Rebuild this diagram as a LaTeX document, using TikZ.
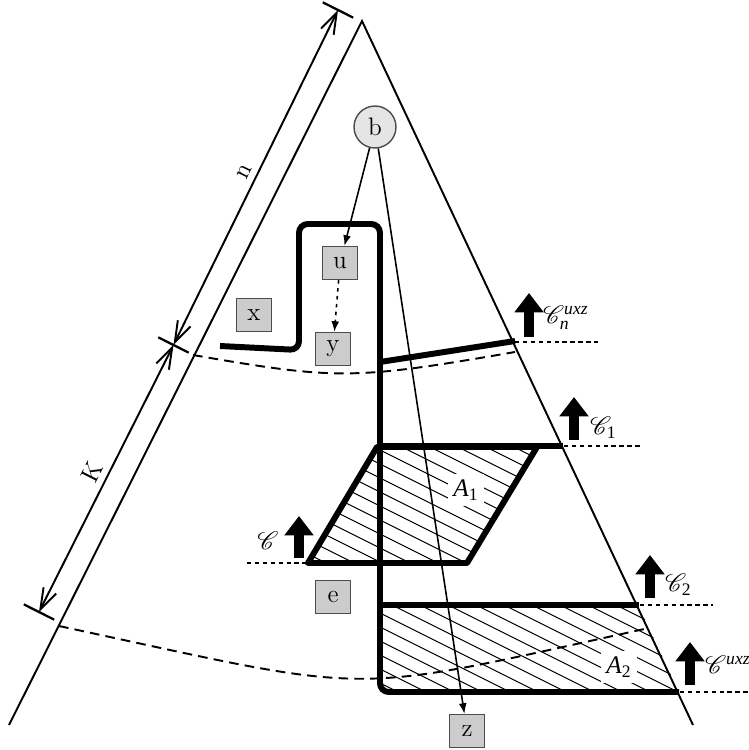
\documentclass[tikz,border=0pt]{standalone}
\usepackage{amsmath}
\usepackage{mathrsfs}
\usepackage{fontspec}
\newfontfamily\tms{Liberation Serif}
\usetikzlibrary{arrows.meta}
\begin{document}
\begin{tikzpicture}[x=0.02cm,y=-0.02cm,
  thinline/.style={line width=1.1pt},
  heavy/.style={line width=3.4pt},
  boxnode/.style={draw=black!70, fill=gray!40, line width=0.8pt, minimum width=0.7cm, minimum height=0.66cm, inner sep=0pt, font=\Large},
  circnode/.style={circle, draw=black!70, fill=gray!20, line width=0.8pt, minimum size=0.84cm, inner sep=0pt, font=\Large},
  dimline/.style={line width=1.1pt, {Straight Barb[length=12pt,width=8pt]}-{Straight Barb[length=12pt,width=8pt]}},
  dimtick/.style={line width=1.3pt},
  bigarrow/.style={line width=5.7pt, -{Triangle[length=11pt,width=16pt]}},
  dotline/.style={line width=1.1pt, dash pattern=on 2.5pt off 2pt},
  dashcurve/.style={line width=1.1pt, dash pattern=on 5.5pt off 3.5pt},
  hatchline/.style={line width=0.6pt},
  ptr/.style={line width=0.9pt, -{Latex[length=6pt,width=4.5pt]}},
  mlabel/.style={font=\Large, inner sep=1pt}
]
\useasboundingbox (0,0) rectangle (748,750);

% hatching A1
\begin{scope}
  \clip (377,447) -- (537,447) -- (467,563) -- (308,563) -- cycle;
  \foreach \c in {312,326,...,584} \draw[hatchline] (300,\c) -- (560,\c+130);
\end{scope}
% hatching A2
\begin{scope}
  \clip (380,605) -- (638,605) -- (679,692) -- (380,692) -- cycle;
  \foreach \c in {454,468,...,710} \draw[hatchline] (370,\c) -- (700,\c+165);
\end{scope}

% triangle
\draw[thinline] (9,725) -- (362,21) -- (693,725);

% dashed curves
\draw[dashcurve] (193,355) .. controls (337,380) and (353,380) .. (515,352);
\draw[dashcurve] (59,626) .. controls (385,696) and (338,696) .. (649,628);

% dimension line
\coordinate (dT) at (338,10);
\coordinate (dM) at (173.5,345);
\coordinate (dB) at (39,612);
\draw[dimtick] (322.8,2.35) -- (353.2,17.65);
\draw[dimtick] (158.3,337.35) -- (188.7,352.65);
\draw[dimtick] (23.8,604.35) -- (54.2,619.65);
\draw[dimline] (dT) -- node[midway, sloped, above, font=\Large] (ln) {n} (dM);
\draw[dimline] (dM) -- node[midway, sloped, above, font=\Large] (lK) {K} (dB);

% thick lines
\draw[heavy, rounded corners=5pt] (220,346) -- (299,350) -- (299,224) -- (380,224) -- (380,692) -- (679,692);
\draw[heavy] (380,362) -- (515,341);
\draw[heavy] (380,446) -- (563,446);
\draw[heavy, line join=round] (377,447) -- (537,447) -- (467,563) -- (308,563) -- cycle;
\draw[heavy] (380,605) -- (639,605);

% dotted level lines
\draw[dotline] (515,342) -- (598,342);
\draw[dotline] (564,446) -- (640,446);
\draw[dotline] (640,605) -- (713,605);
\draw[dotline] (680,692) -- (748,692);
\draw[dotline] (247,563) -- (308,563);

% big arrows
\draw[bigarrow] (529,337) -- (529,293);
\draw[bigarrow] (574,440) -- (574,397);
\draw[bigarrow] (650,598) -- (650,555);
\draw[bigarrow] (690,685) -- (690,642);
\draw[bigarrow] (299,558) -- (299,516);

% labels
\node[mlabel, anchor=west] (lcn) at (541,318) {$\mathscr{C}_{\text{\tms\itshape n}}^{\text{\tms\itshape uxz}}$};
\node[mlabel, anchor=west] (lc1) at (588,428) {$\mathscr{C}_{\text{\tms 1}}$};
\node[mlabel, anchor=west] (lc2) at (663,585) {$\mathscr{C}_{\text{\tms 2}}$};
\node[mlabel, anchor=west] (lcu) at (703,665) {$\mathscr{C}^{\text{\tms\itshape uxz}}$};
\node[mlabel] (lc) at (268,541) {$\mathscr{C}$};
\node[mlabel, fill=white, inner sep=3pt] (la1) at (466,490) {{\tms\itshape A}$_{\text{\tms 1}}$};
\node[mlabel, fill=white, inner sep=3pt] (la2) at (619,667) {{\tms\itshape A}$_{\text{\tms 2}}$};

% nodes
\node[circnode] (b) at (375,127) {b};
\node[boxnode] (u) at (340,263) {u};
\node[boxnode] (x) at (254,315) {x};
\node[boxnode] (y) at (333,349) {y};
\node[boxnode] (e) at (333,597) {e};
\node[boxnode] (z) at (467,731) {z};

% pointers
\draw[ptr] (b) -- (u);
\draw[ptr] (b) -- (z);
\draw[ptr, dash pattern=on 2pt off 2.5pt] (u) -- (y);
\end{tikzpicture}
\end{document}
